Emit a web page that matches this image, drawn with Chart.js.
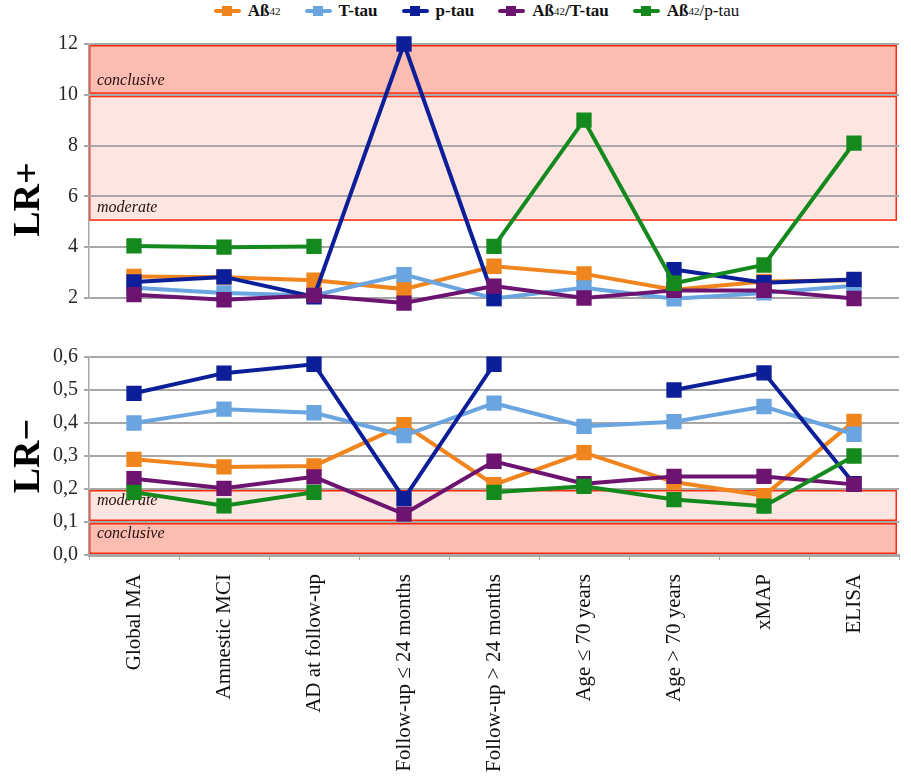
<!DOCTYPE html>
<html>
<head>
<meta charset="utf-8">
<script src="https://cdn.jsdelivr.net/npm/chart.js@4.4.1/dist/chart.umd.min.js"></script>
<style>
  html, body { margin: 0; padding: 0; background: #fff; }
  body { width: 911px; height: 779px; position: relative; overflow: hidden; font-family: "Liberation Serif", serif; }
  #legend { position: absolute; top: 1px; left: 0; width: 911px; display: flex; justify-content: center; gap: 24px; padding-left: 42px; box-sizing: border-box; }
  .item { display: flex; align-items: center; font-size: 17px; font-weight: bold; color: #111; }
  .item sub { font-size: 11px; font-weight: normal; vertical-align: -4px; }
  .item .n { font-weight: normal; }
  .swatch { position: relative; width: 27px; height: 10px; margin-right: 7px; }
  .swatch::before { content: ""; position: absolute; left: 0; right: 0; top: 3px; height: 4px; background: var(--c); border-radius: 2px; }
  .swatch::after { content: ""; position: absolute; left: 8px; top: 0; width: 10px; height: 10px; background: var(--c); }
  #top { position: absolute; left: 0; top: 0; width: 911px; height: 322px; }
  #bot { position: absolute; left: 0; top: 330px; width: 911px; height: 449px; }
</style>
</head>
<body>
<div id="legend">
  <div class="item"><span class="swatch" style="--c:#f0851e"></span>Aß<sub>42</sub></div>
  <div class="item"><span class="swatch" style="--c:#6aa5e0"></span>T-tau</div>
  <div class="item"><span class="swatch" style="--c:#0c1e98"></span>p-tau</div>
  <div class="item"><span class="swatch" style="--c:#6c1470"></span>Aß<sub>42</sub>/T-tau</div>
  <div class="item"><span class="swatch" style="--c:#148a1e"></span>Aß<sub>42</sub><span class="n">/p-tau</span></div>
</div>
<div id="top"><canvas id="lrPosChart"></canvas></div>
<div id="bot"><canvas id="lrNegChart"></canvas></div>
<script>
const categories = ['Global MA', 'Amnestic MCI', 'AD at follow-up', 'Follow-up ≤ 24 months',
  'Follow-up > 24 months', 'Age ≤ 70 years', 'Age > 70 years', 'xMAP', 'ELISA'];
const seriesNames = ['Aß42', 'T-tau', 'p-tau', 'Aß42/T-tau', 'Aß42/p-tau'];
const seriesColors = ['#f0851e', '#6aa5e0', '#0c1e98', '#6c1470', '#148a1e'];

// LR+ values
const lrPosAb42   = [2.85, 2.82, 2.70, 2.35, 3.25, 2.95, 2.33, 2.65, 2.70];
const lrPosTtau   = [2.40, 2.20, 2.10, 2.92, 1.98, 2.40, 1.97, 2.20, 2.48];
const lrPosPtau   = [2.63, 2.83, 2.05, 12.0, 1.98, null, 3.12, 2.60, 2.73];
const lrPosAbTtau = [2.13, 1.93, 2.10, 1.80, 2.47, 2.00, 2.30, 2.30, 1.98];
const lrPosAbPtau = [4.05, 4.00, 4.03, null, 4.03, 9.00, 2.58, 3.30, 8.10];

// LR- values
const lrNegAb42   = [0.290, 0.267, 0.270, 0.395, 0.213, 0.310, 0.221, 0.180, 0.405];
const lrNegTtau   = [0.400, 0.442, 0.431, 0.362, 0.460, 0.390, 0.404, 0.450, 0.366];
const lrNegPtau   = [0.490, 0.551, 0.578, 0.171, 0.578, null, 0.500, 0.552, 0.216];
const lrNegAbTtau = [0.231, 0.202, 0.237, 0.124, 0.284, 0.216, 0.238, 0.238, 0.214];
const lrNegAbPtau = [0.190, 0.149, 0.190, null, 0.190, 0.208, 0.168, 0.148, 0.300];

// evidence bands [from, to, label]
const lrPosBands = [[5, 10, 'moderate'], [10, 12, 'conclusive']];
const lrNegBands = [[0.1, 0.2, 'moderate'], [0, 0.1, 'conclusive']];

const serif = '"Liberation Serif", "DejaVu Serif", serif';
const gridGray = '#a8a8a8';

const makeDatasets = (arrays) => arrays.map((data, i) => ({
  label: seriesNames[i],
  data: data,
  borderColor: seriesColors[i],
  backgroundColor: seriesColors[i],
  borderWidth: 4,
  pointStyle: 'rect',
  pointRadius: 8,
  pointHoverRadius: 8,
  tension: 0,
  clip: false,
  order: arrays.length - i
}));

// fills the moderate / conclusive zones under the grid
const bandsPlugin = {
  id: 'bands',
  beforeDraw(chart, args, opts) {
    const { ctx, chartArea: a, scales: { y } } = chart;
    ctx.save();
    opts.bands.forEach(([from, to, label]) => {
      const y1 = y.getPixelForValue(to) + 1;
      const y2 = y.getPixelForValue(from) - 1;
      ctx.fillStyle = label === 'conclusive' ? '#fbbdb1' : '#fde5e1';
      ctx.fillRect(a.left, y1, a.right - a.left - 2, y2 - y1);
      ctx.strokeStyle = '#ff2b0a';
      ctx.lineWidth = 1.5;
      ctx.strokeRect(a.left + 0.75, y1 + 0.75, a.right - a.left - 3.5, y2 - y1 - 1.5);
      ctx.fillStyle = '#2a1010';
      ctx.font = 'italic 16px ' + serif;
      ctx.textBaseline = 'alphabetic';
      const ty = opts.labelAtBottom ? y2 - 9 : y1 + 15;
      ctx.fillText(label, a.left + 8, ty);
    });
    ctx.restore();
  }
};

const yAxis = (title, min, max, step, fmt) => ({
  min: min, max: max,
  afterFit: (s) => { s.width = 89; },
  ticks: { stepSize: step, color: '#262626', padding: 6, font: { family: serif, size: 20 }, callback: fmt },
  grid: { color: gridGray, lineWidth: 2, tickLength: 5 },
  border: { color: gridGray, width: 1.5 },
  title: { display: true, text: title, color: '#000', padding: { top: 6, bottom: 0 },
    font: { family: serif, size: 38, weight: 'bold' } }
});

new Chart(document.getElementById('lrPosChart'), {
  type: 'line',
  data: { labels: categories,
    datasets: makeDatasets([lrPosAb42, lrPosTtau, lrPosPtau, lrPosAbTtau, lrPosAbPtau]) },
  plugins: [bandsPlugin],
  options: {
    responsive: true, maintainAspectRatio: false, animation: false,
    layout: { padding: { top: 44, right: 7, bottom: 24, left: 0 } },
    plugins: { legend: { display: false }, tooltip: { enabled: false },
      bands: { bands: lrPosBands, labelAtBottom: true } },
    scales: {
      x: { display: false, offset: true },
      // trailing em spaces push the rotated title down, as in the original figure
      y: yAxis('LR+\u2003\u2002', 2, 12, 2, (v) => v)
    }
  }
});

new Chart(document.getElementById('lrNegChart'), {
  type: 'line',
  data: { labels: categories,
    datasets: makeDatasets([lrNegAb42, lrNegTtau, lrNegPtau, lrNegAbTtau, lrNegAbPtau]) },
  plugins: [bandsPlugin],
  options: {
    responsive: true, maintainAspectRatio: false, animation: false,
    layout: { padding: { top: 27, right: 7, bottom: 0, left: 0 } },
    plugins: { legend: { display: false }, tooltip: { enabled: false },
      bands: { bands: lrNegBands, labelAtBottom: false } },
    scales: {
      x: {
        offset: true,
        afterFit: (s) => { s.height = 224; },
        grid: { display: true, drawOnChartArea: false, offset: true, tickLength: 5, color: gridGray, lineWidth: 1 },
        border: { color: gridGray, width: 3 },
        ticks: { minRotation: 90, maxRotation: 90, autoSkip: false, padding: 14, color: '#111',
          font: { family: serif, size: 21 } }
      },
      y: yAxis('LR−', 0, 0.6, 0.1, (v) => v.toFixed(1).replace('.', ','))
    }
  }
});
</script>
</body>
</html>
